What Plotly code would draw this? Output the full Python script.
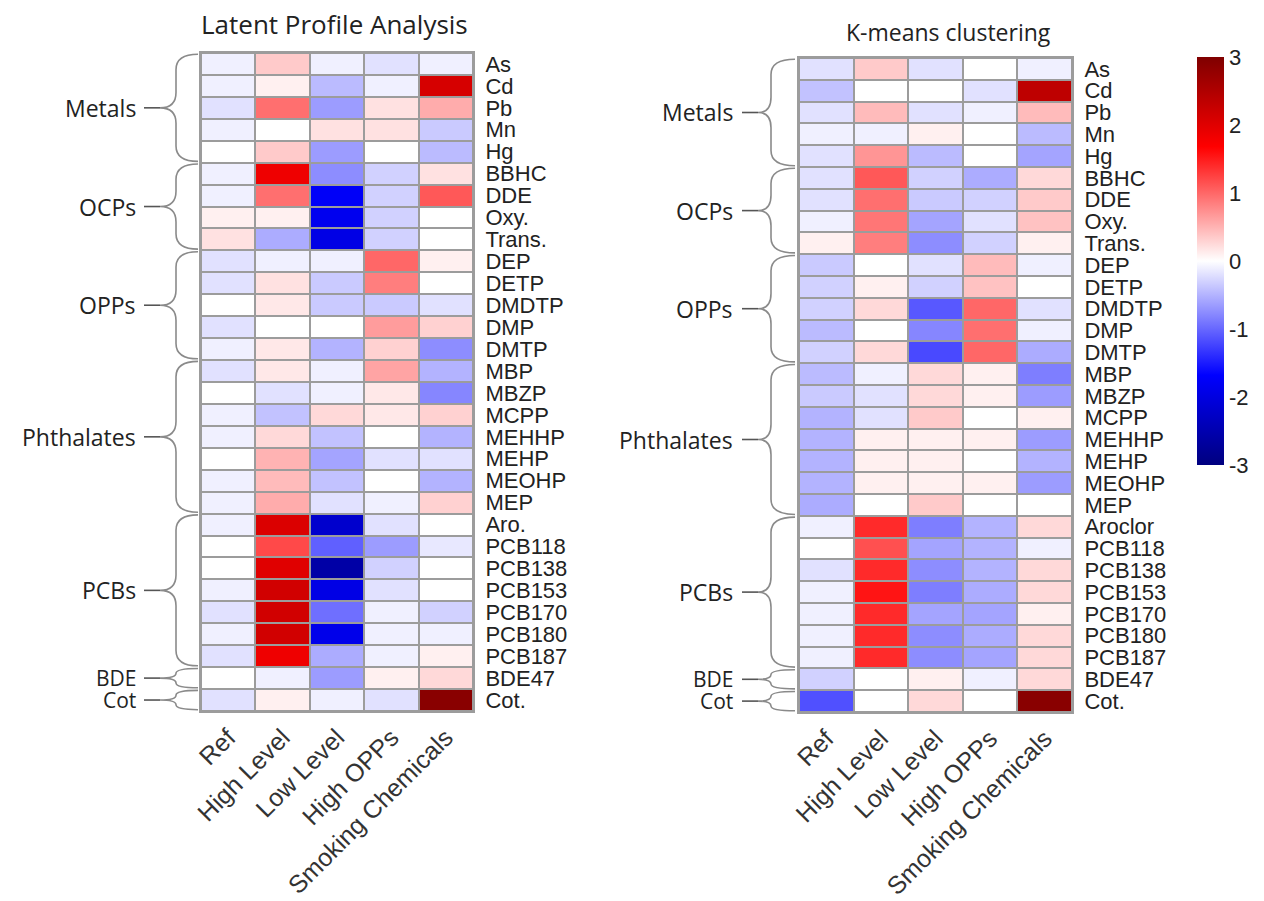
import plotly.graph_objects as go

W, H = 1264, 901
OFF = 8  # default page body margin of the written html

columns = ["Ref", "High Level", "Low Level", "High OPPs", "Smoking Chemicals"]

rows_lpa = ["As", "Cd", "Pb", "Mn", "Hg", "BBHC", "DDE", "Oxy.", "Trans.",
            "DEP", "DETP", "DMDTP", "DMP", "DMTP",
            "MBP", "MBZP", "MCPP", "MEHHP", "MEHP", "MEOHP", "MEP",
            "Aro.", "PCB118", "PCB138", "PCB153", "PCB170", "PCB180", "PCB187",
            "BDE47", "Cot."]
rows_km = ["As", "Cd", "Pb", "Mn", "Hg", "BBHC", "DDE", "Oxy.", "Trans.",
           "DEP", "DETP", "DMDTP", "DMP", "DMTP",
           "MBP", "MBZP", "MCPP", "MEHHP", "MEHP", "MEOHP", "MEP",
           "Aroclor", "PCB118", "PCB138", "PCB153", "PCB170", "PCB180", "PCB187",
           "BDE47", "Cot."]

groups = ["Metals", "OCPs", "OPPs", "Phthalates", "PCBs", "BDE", "Cot"]
group_first = [0, 5, 9, 14, 21, 28, 29]
group_last = [4, 8, 13, 20, 27, 28, 29]

colorbar_ticks = [3, 2, 1, 0, -1, -2, -3]
colorbar_labels = ["3", "2", "1", "0", "-1", "-2", "-3"]

# Latent Profile Analysis values (rows x columns)
lpa_values = [
    [-0.1, 0.35, -0.1, -0.2, -0.1],
    [-0.1, 0.1, -0.45, -0.1, 2.1],
    [-0.2, 0.95, -0.65, 0.2, 0.55],
    [-0.1, 0.0, 0.2, 0.2, -0.35],
    [0.0, 0.35, -0.65, 0.0, -0.45],
    [-0.1, 1.85, -0.75, -0.3, 0.2],
    [-0.1, 0.95, -1.75, -0.3, 1.1],
    [0.1, 0.1, -1.85, -0.3, 0.0],
    [0.2, -0.55, -1.95, -0.3, 0.0],
    [-0.2, -0.1, -0.1, 1.0, 0.1],
    [-0.2, 0.2, -0.35, 0.85, 0.0],
    [0.0, 0.15, -0.35, -0.35, -0.2],
    [-0.2, 0.0, 0.0, 0.65, 0.3],
    [-0.1, 0.15, -0.5, 0.3, -0.75],
    [-0.2, 0.15, -0.1, 0.6, -0.5],
    [0.0, -0.2, -0.1, 0.15, -0.8],
    [-0.1, -0.4, 0.25, 0.15, 0.3],
    [-0.1, 0.25, -0.4, 0.0, -0.5],
    [0.0, 0.5, -0.6, -0.2, -0.2],
    [-0.1, 0.45, -0.4, 0.0, -0.5],
    [-0.1, 0.55, -0.2, -0.1, 0.3],
    [-0.1, 2.05, -2.2, -0.2, 0.0],
    [0.0, 1.2, -1.05, -0.65, -0.15],
    [0.0, 2.0, -2.6, -0.3, 0.0],
    [-0.1, 2.15, -1.95, -0.2, 0.0],
    [-0.2, 2.15, -0.95, -0.1, -0.3],
    [-0.1, 2.15, -1.9, -0.1, -0.1],
    [-0.2, 1.85, -0.55, -0.1, 0.1],
    [0.0, -0.1, -0.65, 0.1, 0.25],
    [-0.2, 0.1, -0.1, -0.2, 2.9],
]

# K-means clustering values (rows x columns)
km_values = [
    [-0.2, 0.35, -0.2, 0.0, -0.1],
    [-0.4, 0.0, 0.0, -0.2, 2.35],
    [-0.2, 0.45, -0.2, -0.1, 0.45],
    [-0.1, -0.1, 0.1, 0.0, -0.45],
    [-0.2, 0.7, -0.45, 0.0, -0.6],
    [-0.2, 1.1, -0.3, -0.55, 0.25],
    [-0.2, 0.95, -0.35, -0.3, 0.35],
    [-0.1, 0.9, -0.6, -0.2, 0.4],
    [0.1, 0.85, -0.75, -0.3, 0.1],
    [-0.35, 0.0, -0.2, 0.45, -0.1],
    [-0.3, 0.1, -0.3, 0.4, 0.0],
    [-0.3, 0.25, -1.1, 1.0, -0.2],
    [-0.45, 0.0, -0.8, 0.95, -0.1],
    [-0.3, 0.25, -1.2, 1.0, -0.55],
    [-0.45, -0.1, 0.25, 0.1, -0.85],
    [-0.35, -0.2, 0.25, 0.1, -0.65],
    [-0.5, -0.2, 0.35, 0.0, 0.1],
    [-0.5, 0.1, 0.1, 0.1, -0.65],
    [-0.5, 0.1, 0.1, 0.0, -0.5],
    [-0.5, 0.1, 0.1, 0.1, -0.65],
    [-0.55, 0.0, 0.35, 0.0, 0.0],
    [-0.1, 1.4, -0.85, -0.5, 0.25],
    [0.0, 1.15, -0.6, -0.5, -0.1],
    [-0.2, 1.4, -0.75, -0.5, 0.25],
    [-0.1, 1.55, -0.85, -0.55, 0.25],
    [-0.1, 1.4, -0.6, -0.6, 0.1],
    [-0.1, 1.4, -0.75, -0.55, 0.25],
    [-0.1, 1.4, -0.75, -0.6, 0.25],
    [-0.3, 0.0, 0.1, -0.1, 0.25],
    [-1.15, 0.0, 0.25, 0.0, 2.9],
]

colorscale = [[0.0, "#00007F"], [0.22, "#0000FF"], [0.5, "#FFFFFF"],
              [0.78, "#FF0000"], [1.0, "#7F0000"]]

GRID = "#9C9C9C"


def px(x):
    return (x - OFF) / W


def py(y):
    return 1 - (y - OFF) / H


fig = go.Figure()
fig.add_trace(go.Heatmap(
    z=lpa_values, x=list(range(len(columns))), y=list(range(len(rows_lpa))),
    colorscale=colorscale, zmin=-3, zmax=3, xgap=2, ygap=2,
    showscale=False, xaxis="x", yaxis="y"))
fig.add_trace(go.Heatmap(
    z=km_values, x=list(range(len(columns))), y=list(range(len(rows_km))),
    colorscale=colorscale, zmin=-3, zmax=3, xgap=2, ygap=2,
    xaxis="x2", yaxis="y2",
    colorbar=dict(x=px(1197), xanchor="left", y=py(57), yanchor="top",
                  len=(465 - 57) / H, lenmode="fraction", thickness=27,
                  xpad=0, ypad=0, outlinewidth=0,
                  tickmode="array", tickvals=colorbar_ticks, ticktext=colorbar_labels,
                  ticks="", ticklabelposition="outside",
                  tickfont=dict(family="Liberation Sans, Arial", size=22, color="#222"))))

row_font = dict(family="Liberation Sans, Arial", size=22, color="#222")
col_font = dict(family="Liberation Sans, Arial", size=25, color="#333")

axis_common_x = dict(tickmode="array", tickvals=list(range(len(columns))), ticktext=columns,
                     tickangle=-45, tickfont=col_font, showgrid=False, zeroline=False,
                     range=[-0.5, len(columns) - 0.5], showline=True, linecolor=GRID,
                     linewidth=2, mirror=True, ticks="", fixedrange=True, automargin=False)


def yaxis_cfg(labels, anchor, dom):
    return dict(tickmode="array", tickvals=list(range(len(labels))), ticktext=labels,
                side="right", tickfont=row_font, showgrid=False, zeroline=False,
                range=[len(labels) - 0.5, -0.5], anchor=anchor, domain=dom,
                showline=True, linecolor=GRID, linewidth=2, mirror=True,
                ticks="outside", ticklen=6, tickcolor="rgba(0,0,0,0)", automargin=False)


fig.update_layout(
    width=W, height=H, margin=dict(l=0, r=0, t=0, b=0, autoexpand=False),
    paper_bgcolor="white", plot_bgcolor=GRID,
    xaxis=dict(domain=[px(201), px(473)], anchor="y", **axis_common_x),
    yaxis=yaxis_cfg(rows_lpa, "x", [py(711), py(53)]),
    xaxis2=dict(domain=[px(799), px(1072)], anchor="y2", **axis_common_x),
    yaxis2=yaxis_cfg(rows_km, "x2", [py(712), py(58)]),
    showlegend=False,
)

fig.add_annotation(text="Latent Profile Analysis", x=px(334), y=py(24), xref="paper",
                   yref="paper", showarrow=False,
                   font=dict(family="Open Sans, Noto Sans", size=26, color="#222"),
                   xanchor="center", yanchor="middle")
fig.add_annotation(text="K-means clustering", x=px(948), y=py(32), xref="paper",
                   yref="paper", showarrow=False,
                   font=dict(family="Open Sans, Noto Sans", size=23, color="#222"),
                   xanchor="center", yanchor="middle")


def add_braces(yref, x_label, x_tail, x_tip, x_spine, x_end):
    for name, a, b in zip(groups, group_first, group_last):
        t = a - 0.5 + 0.06
        bt = b + 0.5 - 0.06
        m = (a + b) / 2
        r = min(0.7, (m - t) / 2)
        xe, xs, xt, xl = px(x_end), px(x_spine), px(x_tip), px(x_tail)
        path = (f"M {xe},{t} Q {xs},{t} {xs},{t + r} L {xs},{m - r} "
                f"Q {xs},{m} {xt},{m} Q {xs},{m} {xs},{m + r} "
                f"L {xs},{bt - r} Q {xs},{bt} {xe},{bt}")
        fig.add_shape(type="path", path=path, xref="paper", yref=yref,
                      line=dict(color="#8a8a8a", width=1.6))
        fig.add_shape(type="line", x0=xl, x1=xt, y0=m, y1=m, xref="paper", yref=yref,
                      line=dict(color="#555", width=1.6))
        size = 23 if b > a else 21
        fig.add_annotation(text=name, x=px(x_label), y=m, xref="paper", yref=yref,
                           xanchor="right", yanchor="middle", showarrow=False,
                           font=dict(family="Open Sans, Noto Sans", size=size, color="#222"))


add_braces("y", 138, 144, 160, 176, 198)
add_braces("y2", 735, 742, 758, 771, 795)

fig.write_html("out.html")
